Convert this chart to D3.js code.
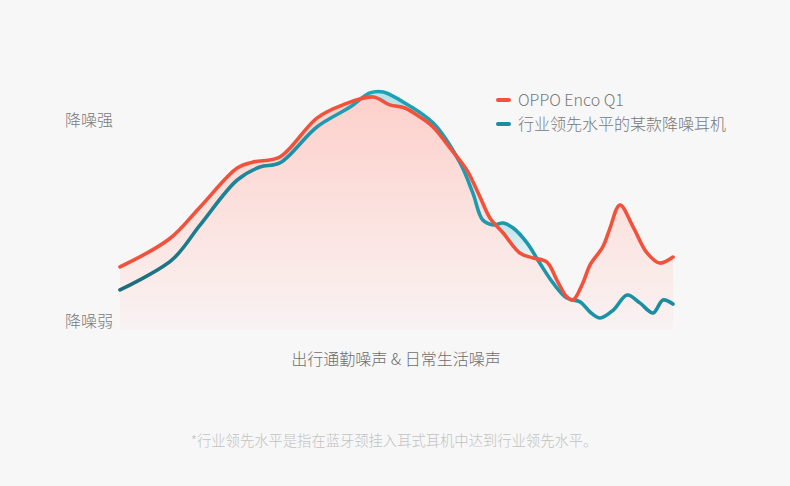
<!DOCTYPE html>
<html><head><meta charset="utf-8">
<script src="https://cdn.jsdelivr.net/npm/d3@7/dist/d3.min.js"></script>
<style>
html,body{margin:0;padding:0;background:#f7f7f7;}
svg{display:block;}
text{font-family:"Noto Sans CJK SC","Noto Sans",sans-serif;font-weight:300;}
</style></head>
<body><svg id="c" width="790" height="486"></svg>
<script>
// noise scene position (0-100) and noise-reduction level (0-100)
const seriesNames = ["OPPO Enco Q1", "行业领先水平的某款降噪耳机"];
const yLabels = ["降噪弱", "降噪强"];
const xLabel = "出行通勤噪声 & 日常生活噪声";
const footnote = "*行业领先水平是指在蓝牙颈挂入耳式耳机中达到行业领先水平。";

const oppoX = [0, 8.9, 14.5, 21.2, 24.1, 28.9, 35.6, 40.3, 45.8, 48.8, 51.5, 54.2, 56.6, 59.7, 62.7, 65.1, 66.9, 69.3, 72.3, 74.7, 77.2, 79.0, 80.8, 81.9, 83.7, 85.0, 87.3, 88.5, 90.4, 92.8, 95.3, 97.6, 100];
const oppoY = [26.3, 37.9, 51.3, 67.5, 70.0, 72.1, 88.3, 93.8, 97.1, 93.8, 92.5, 88.8, 84.6, 75.8, 66.7, 55.4, 46.7, 40.4, 32.1, 30.0, 28.3, 20.8, 13.8, 12.5, 19.6, 27.1, 34.6, 41.7, 52.1, 42.9, 32.1, 27.9, 30.4];

const rivalX = [0, 9.4, 14.5, 21.2, 25.3, 28.9, 35.6, 41.6, 45.2, 47.6, 50.6, 56.6, 61.5, 63.8, 65.6, 67.5, 69.3, 71.1, 73.6, 75.9, 78.3, 80.8, 83.2, 85.0, 86.8, 89.2, 91.7, 94.0, 96.4, 98.2, 100];
const rivalY = [16.7, 29.2, 43.8, 62.5, 67.9, 69.6, 84.6, 92.9, 98.8, 99.2, 95.8, 86.3, 69.6, 57.1, 45.8, 43.8, 44.6, 42.5, 36.3, 27.9, 19.6, 13.3, 11.7, 7.5, 5.0, 8.3, 14.6, 11.3, 7.1, 12.5, 10.8];

const oppo = oppoX.map((x, i) => ({x, y: oppoY[i]}));
const rival = rivalX.map((x, i) => ({x, y: rivalY[i]}));

const svg = d3.select("#c");
const x = d3.scaleLinear().domain([0, 100]).range([120, 673]);
const y = d3.scaleLinear().domain([0, 100]).range([330, 90]);

const defs = svg.append("defs");
const pg = defs.append("linearGradient").attr("id", "pink").attr("gradientUnits", "userSpaceOnUse")
  .attr("x1", 0).attr("y1", y(100)).attr("x2", 0).attr("y2", y(0));
pg.append("stop").attr("offset", "0%").attr("stop-color", "#fdcfca");
pg.append("stop").attr("offset", "55%").attr("stop-color", "#fbe3e0");
pg.append("stop").attr("offset", "100%").attr("stop-color", "#f8f2f2");
const bg = defs.append("linearGradient").attr("id", "cyan").attr("gradientUnits", "userSpaceOnUse")
  .attr("x1", 0).attr("y1", y(46)).attr("x2", 0).attr("y2", y(30));
bg.append("stop").attr("offset", "0%").attr("stop-color", "#b9e2ea");
bg.append("stop").attr("offset", "100%").attr("stop-color", "#e6f4f6");
const lg = defs.append("linearGradient").attr("id", "blueLine").attr("gradientUnits", "userSpaceOnUse")
  .attr("x1", x(0)).attr("y1", 0).attr("x2", x(100)).attr("y2", 0);
lg.append("stop").attr("offset", "0%").attr("stop-color", "#1b6b7b");
lg.append("stop").attr("offset", "45%").attr("stop-color", "#1ea3ba");
lg.append("stop").attr("offset", "100%").attr("stop-color", "#1a8c9f");

const curve = d3.curveCatmullRom.alpha(0.5);
const area = d3.area().x(d => x(d.x)).y0(y(0)).y1(d => y(d.y)).curve(curve);
const line = d3.line().x(d => x(d.x)).y(d => y(d.y)).curve(curve);

svg.append("path").attr("d", area(rival)).attr("fill", "url(#cyan)");
svg.append("path").attr("d", area(oppo)).attr("fill", "url(#pink)");

svg.append("path").attr("d", line(rival)).attr("fill", "none").attr("stroke", "url(#blueLine)")
  .attr("stroke-width", 3.6).attr("stroke-linecap", "round").attr("stroke-linejoin", "round");
svg.append("path").attr("d", line(oppo)).attr("fill", "none").attr("stroke", "#f2513b")
  .attr("stroke-width", 3.6).attr("stroke-linecap", "round").attr("stroke-linejoin", "round");

// y labels
svg.append("text").attr("x", 65).attr("y", y(87.5)).attr("dy", "0.35em").attr("font-size", 16).attr("fill", "#7a7a7a").text(yLabels[1]);
svg.append("text").attr("x", 65).attr("y", y(3.4)).attr("dy", "0.35em").attr("font-size", 16).attr("fill", "#7a7a7a").text(yLabels[0]);

// legend
const colors = ["#f2513b", "#1a8ba0"];
seriesNames.forEach((n, i) => {
  const ly = 100 + i * 24;
  svg.append("line").attr("x1", 498).attr("x2", 509).attr("y1", ly).attr("y2", ly)
    .attr("stroke", colors[i]).attr("stroke-width", 4).attr("stroke-linecap", "round");
  svg.append("text").attr("x", 518).attr("y", ly).attr("dy", "0.35em").attr("font-size", 16).attr("fill", "#787878").text(n);
});

// x label
svg.append("text").attr("x", 396).attr("y", 359).attr("dy", "0.35em").attr("text-anchor", "middle").attr("font-size", 16).attr("fill", "#6e6e6e").text(xLabel);
// footnote
svg.append("text").attr("x", 394).attr("y", 441).attr("dy", "0.35em").attr("text-anchor", "middle").attr("font-size", 14.3).attr("fill", "#c2c2c2").text(footnote);
</script></body></html>
